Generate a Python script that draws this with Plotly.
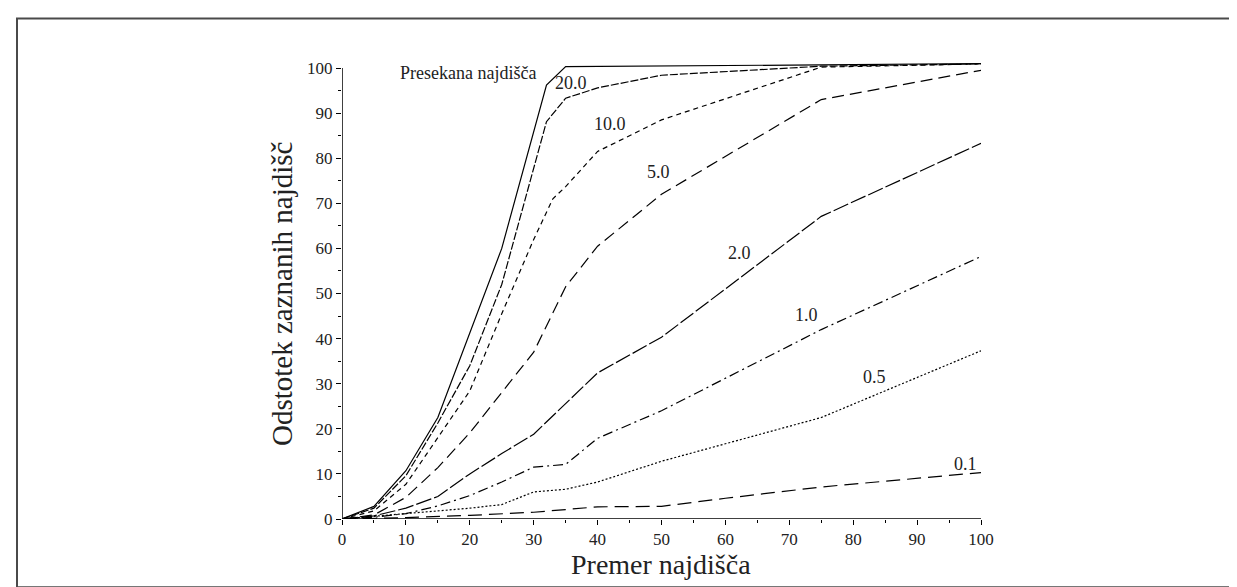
import plotly.graph_objects as go

# ---- data ----
series_labels = ["Presekana najdišča", "20.0", "10.0", "5.0", "2.0", "1.0", "0.5", "0.1"]

x_presekana = [0, 5, 10, 15, 25, 32, 35, 50, 75, 100]
y_presekana = [0, 2.8, 10.7, 22.5, 60, 96.2, 100.3, 100.5, 100.7, 101]

x_20 = [0, 5, 10, 15, 20, 25, 32, 35, 40, 50, 75, 100]
y_20 = [0, 2.4, 9.6, 21.3, 34, 52, 88.1, 93.3, 95.6, 98.4, 100.4, 100.9]

x_10 = [0, 5, 10, 15, 20, 25, 30, 33, 35, 40, 50, 75, 100]
y_10 = [0, 1.8, 7.7, 18, 28.4, 45.5, 62, 71, 73.7, 81.5, 88.5, 100.2, 100.9]

x_5 = [0, 5, 10, 15, 20, 25, 30, 35, 40, 50, 75, 100]
y_5 = [0, 0.9, 4.8, 11.4, 19.1, 28, 37, 51.5, 60.5, 72, 93, 99.5]

x_2 = [0, 5, 10, 15, 20, 25, 30, 40, 50, 75, 100]
y_2 = [0, 0.7, 2.4, 5.0, 10, 14.5, 18.8, 32.4, 40.3, 67.1, 83.3]

x_1 = [0, 5, 10, 15, 20, 25, 30, 35, 40, 50, 75, 100]
y_1 = [0, 0.4, 1.2, 2.9, 5.2, 8.2, 11.5, 12.1, 17.9, 24, 42, 58.2]

x_05 = [0, 5, 10, 15, 20, 25, 30, 35, 40, 50, 75, 100]
y_05 = [0, 0.6, 1.2, 1.8, 2.4, 3.2, 6.0, 6.6, 8.2, 12.8, 22.5, 37.3]

x_01 = [0, 10, 20, 25, 30, 35, 40, 50, 60, 75, 100]
y_01 = [0, 0.3, 0.8, 1.1, 1.5, 2.1, 2.7, 2.8, 4.6, 7.1, 10.3]

# label anchor positions (data coordinates)
label_x = [19.7, 35.8, 42.0, 49.5, 62.2, 72.7, 83.4, 97.6]
label_y = [98.8, 96.6, 87.6, 77.0, 59.0, 45.3, 31.5, 12.3]

x_ticks = [0, 10, 20, 30, 40, 50, 60, 70, 80, 90, 100]
y_ticks = [0, 10, 20, 30, 40, 50, 60, 70, 80, 90, 100]

xs = [x_presekana, x_20, x_10, x_5, x_2, x_1, x_05, x_01]
ys = [y_presekana, y_20, y_10, y_5, y_2, y_1, y_05, y_01]
dashes = ["solid", "8px,2px", "5px,4px", "12px,6px", "16px,3px",
          "10px,4px,2px,4px", "2px,2px", "14px,7px"]

SERIF = "Liberation Serif"
TXT = "#222222"

fig = go.Figure()
for xv, yv, d, name in zip(xs, ys, dashes, series_labels):
    fig.add_trace(go.Scatter(x=xv, y=yv, mode="lines", name=name,
                             line=dict(color="black", width=1.2, dash=d),
                             showlegend=False, hoverinfo="skip"))

for txt, lx, ly in zip(series_labels, label_x, label_y):
    fig.add_annotation(x=lx, y=ly, xref="x", yref="y", text=txt, showarrow=False,
                       font=dict(family=SERIF, size=18, color=TXT),
                       xanchor="center", yanchor="middle")

W, H = 1237, 587
L, R_px, T, B_px = 334, 973, 50.5, 511.5
y_max = 102

def px_to_paper_x(p):
    return (p - L) / (R_px - L)

def px_to_paper_y(p):
    return (B_px - p) / (B_px - T)

# axis lines (only from 0 to 100)
fig.add_shape(type="line", xref="x", yref="y", x0=0, x1=0, y0=0, y1=100,
              line=dict(color="black", width=1.5))
fig.add_shape(type="line", xref="x", yref="y", x0=0, x1=100, y0=0, y1=0,
              line=dict(color="black", width=1.5))

# outer frame
fig.add_shape(type="rect", xref="paper", yref="paper",
              x0=px_to_paper_x(9), x1=px_to_paper_x(1235.5),
              y0=px_to_paper_y(580), y1=px_to_paper_y(10),
              line=dict(color="#4a4a4a", width=2), layer="below")

# axis titles
fig.add_annotation(x=px_to_paper_x(653), y=px_to_paper_y(557), xref="paper", yref="paper",
                   text="Premer najdišča", showarrow=False,
                   font=dict(family=SERIF, size=28, color=TXT),
                   xanchor="center", yanchor="middle")
fig.add_annotation(x=px_to_paper_x(274), y=px_to_paper_y(286), xref="paper", yref="paper",
                   text="Odstotek zaznanih najdišč", showarrow=False, textangle=-90,
                   font=dict(family=SERIF, size=29, color=TXT),
                   xanchor="center", yanchor="middle")

fig.update_layout(
    width=W, height=H,
    margin=dict(l=L, r=W - R_px, t=T, b=H - B_px, pad=0),
    paper_bgcolor="white", plot_bgcolor="white",
    font=dict(family=SERIF, color=TXT),
    xaxis=dict(range=[0, 100], tickvals=x_ticks, ticks="outside", ticklen=5,
               tickwidth=1.2, tickcolor="black", showline=False, showgrid=False,
               zeroline=False, tickfont=dict(family=SERIF, size=17, color=TXT),
               minor=dict(dtick=5, ticks="outside", ticklen=3, tickcolor="black",
                          tickwidth=1, showgrid=False)),
    yaxis=dict(range=[0, y_max], tickvals=y_ticks, ticks="outside", ticklen=5,
               tickwidth=1.2, tickcolor="black", showline=False, showgrid=False,
               zeroline=False, tickfont=dict(family=SERIF, size=17, color=TXT),
               minor=dict(tickvals=[5, 15, 25, 35, 45, 55, 65, 75, 85, 95],
                          ticks="outside", ticklen=3, tickcolor="black",
                          tickwidth=1, showgrid=False)),
)

fig.write_html("out.html")
